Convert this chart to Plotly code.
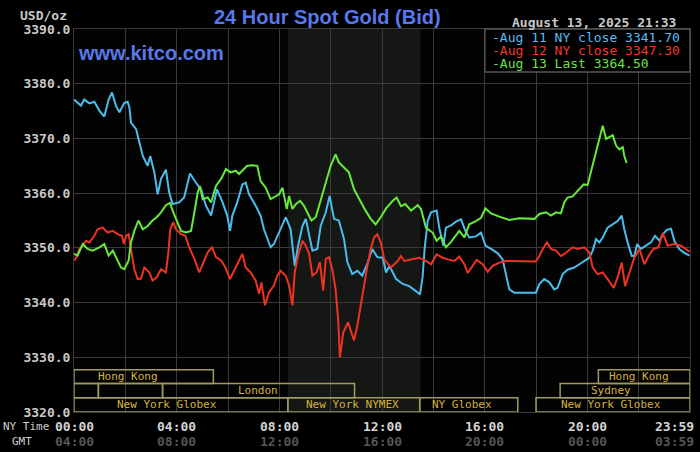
import plotly.graph_objects as go

# ---------------- data ----------------
aug11_h = [0, 0.14, 0.27, 0.4, 0.6, 0.79, 1.0, 1.18, 1.35, 1.48, 1.64, 1.77, 1.96, 2.09, 2.16, 2.22, 2.42, 2.55,
           2.68, 2.87, 2.97, 3.13, 3.26, 3.39, 3.58, 3.71, 3.84, 4.1, 4.29, 4.52, 4.75, 4.95, 5.14, 5.34, 5.44,
           5.57, 5.79, 5.97, 6.08, 6.17, 6.36, 6.56, 6.69, 6.82, 7.08, 7.27, 7.4, 7.66, 7.79, 7.99, 8.25, 8.44,
           8.6, 8.73, 8.9, 9.03, 9.16, 9.29, 9.48, 9.61, 9.81, 9.96, 10.13, 10.32, 10.52, 10.65, 10.84, 11.04,
           11.23, 11.43, 11.62, 11.82, 12.03, 12.16, 12.29, 12.55, 12.81, 13.06, 13.32, 13.48, 13.58, 13.66,
           13.78, 13.91, 14.13, 14.23, 14.39, 14.49, 14.69, 14.88, 15.08, 15.25, 15.4, 15.66, 15.86, 16.03,
           16.25, 16.51, 16.7, 16.83, 16.96, 17.16, 18.0, 18.13, 18.32, 18.52, 18.71, 18.84, 19.04, 19.23,
           19.49, 19.69, 19.88, 20.08, 20.21, 20.34, 20.47, 20.6, 20.79, 20.99, 21.18, 21.34, 21.44, 21.57,
           21.73, 21.83, 21.94, 22.09, 22.29, 22.48, 22.64, 22.81, 22.94, 23.1, 23.26, 23.39, 23.58, 23.78, 23.98]
aug11_p = [3377.1, 3376.5, 3376.0, 3377.1, 3376.4, 3376.7, 3375.0, 3374.0, 3377.1, 3378.4, 3375.9, 3374.8,
           3376.5, 3376.7, 3375.6, 3372.9, 3371.7, 3369.2, 3366.8, 3365.0, 3366.8, 3363.8, 3359.8, 3362.6,
           3364.3, 3360.1, 3358.0, 3358.3, 3359.2, 3363.6, 3361.9, 3360.7, 3357.7, 3355.9, 3358.3, 3360.7,
           3358.3, 3355.9, 3353.1, 3355.9, 3358.3, 3361.6, 3361.9, 3359.8, 3357.7, 3355.9, 3353.4, 3350.1,
           3350.7, 3352.8, 3355.6, 3353.4, 3346.7, 3350.4, 3354.0, 3355.3, 3352.2, 3349.5, 3349.8, 3354.0,
           3356.5, 3359.5, 3355.3, 3355.0, 3351.6, 3347.4, 3345.2, 3345.8, 3344.9, 3347.1, 3349.8, 3348.3,
           3348.2, 3345.5, 3346.7, 3344.3, 3343.4, 3343.0, 3342.1, 3341.5, 3344.6, 3349.8, 3354.9, 3356.5,
           3356.8, 3353.7, 3350.4, 3353.7, 3354.1, 3354.8, 3355.2, 3353.1, 3351.9, 3352.1, 3352.8, 3350.4,
           3349.8, 3349.0, 3347.9, 3344.9, 3342.4, 3341.8, 3341.8, 3343.4, 3344.3, 3343.7, 3342.4, 3342.7,
           3345.2, 3346.0, 3346.4, 3347.0, 3347.6, 3348.2, 3349.5, 3351.6, 3351.0, 3351.9, 3353.7, 3354.3,
           3354.9, 3355.9, 3353.4, 3351.0, 3348.5, 3348.5, 3350.7, 3349.8, 3350.4, 3351.0, 3352.2, 3351.3,
           3352.5, 3353.3, 3353.5, 3351.3, 3349.8, 3349.1, 3348.6]

aug12_h = [0, 0.1, 0.21, 0.34, 0.47, 0.6, 0.79, 0.92, 1.12, 1.31, 1.51, 1.7, 1.87, 1.94, 2.03, 2.13, 2.22, 2.35,
           2.48, 2.61, 2.74, 2.94, 3.06, 3.22, 3.39, 3.58, 3.68, 3.75, 3.87, 3.97, 4.17, 4.34, 4.49, 4.69, 4.88,
           5.08, 5.21, 5.38, 5.53, 5.73, 5.88, 6.08, 6.23, 6.43, 6.56, 6.69, 6.88, 7.08, 7.21, 7.3, 7.44, 7.6,
           7.79, 7.92, 8.05, 8.25, 8.38, 8.51, 8.6, 8.73, 8.9, 9.03, 9.16, 9.29, 9.45, 9.58, 9.71, 9.81, 9.94,
           10.06, 10.19, 10.29, 10.36, 10.49, 10.68, 10.78, 10.91, 11.04, 11.17, 11.3, 11.43, 11.56, 11.69,
           11.82, 11.95, 12.09, 12.35, 12.61, 12.74, 12.87, 13.19, 13.45, 13.71, 13.91, 14.13, 14.36, 14.56,
           14.82, 15.01, 15.21, 15.34, 15.53, 15.69, 15.92, 16.12, 16.31, 16.57, 16.83, 17.35, 17.99, 18.13,
           18.3, 18.43, 18.58, 18.78, 18.97, 19.17, 19.43, 19.62, 19.88, 20.08, 20.21, 20.4, 20.6, 20.79,
           21.03, 21.18, 21.34, 21.47, 21.64, 21.83, 22.03, 22.22, 22.42, 22.58, 22.77, 22.94, 23.13, 23.39,
           23.65, 23.98]
aug12_p = [3347.7, 3348.3, 3349.8, 3350.4, 3351.3, 3351.0, 3352.2, 3353.4, 3353.7, 3352.8, 3353.1, 3352.5,
           3352.2, 3350.7, 3352.2, 3352.5, 3349.8, 3346.1, 3344.3, 3344.4, 3346.4, 3345.5, 3344.0, 3344.6,
           3346.1, 3345.5, 3349.2, 3353.4, 3354.7, 3353.4, 3352.5, 3352.2, 3350.1, 3348.0, 3345.5, 3347.7,
           3349.2, 3350.1, 3348.3, 3347.7, 3346.6, 3344.3, 3345.8, 3347.7, 3348.9, 3346.4, 3345.5, 3344.0,
           3341.6, 3343.7, 3339.5, 3341.9, 3343.1, 3344.9, 3345.8, 3344.9, 3343.1, 3339.5, 3345.5, 3348.6,
           3351.3, 3350.4, 3348.9, 3344.9, 3345.5, 3347.4, 3342.2, 3348.0, 3348.3, 3346.1, 3342.5, 3337.0,
           3330.0, 3334.5, 3336.4, 3334.9, 3333.1, 3335.8, 3339.5, 3343.7, 3346.7, 3349.8, 3351.9, 3352.5,
           3351.0, 3347.9, 3346.4, 3347.6, 3348.5, 3347.6, 3347.9, 3348.2, 3347.6, 3347.0, 3348.8, 3348.2,
           3347.9, 3347.6, 3348.4, 3347.0, 3345.4, 3346.7, 3347.8, 3347.0, 3345.6, 3346.7, 3347.3, 3347.6,
           3347.5, 3347.5, 3348.5, 3350.1, 3351.0, 3349.8, 3349.5, 3348.5, 3349.1, 3350.1, 3349.8, 3350.1,
           3349.1, 3346.4, 3345.2, 3345.5, 3344.3, 3342.7, 3344.6, 3347.3, 3343.0, 3345.5, 3348.2, 3349.8,
           3347.0, 3348.8, 3349.8, 3350.1, 3352.7, 3350.4, 3350.7, 3350.4, 3349.3]

aug13_h = [0, 0.14, 0.34, 0.53, 0.73, 0.99, 1.18, 1.35, 1.51, 1.64, 1.83, 1.96, 2.13, 2.22, 2.35, 2.51, 2.68,
           2.87, 3.06, 3.22, 3.39, 3.58, 3.74, 3.87, 4.04, 4.17, 4.36, 4.56, 4.69, 4.82, 4.91, 5.01, 5.21, 5.34,
           5.53, 5.73, 5.92, 6.1, 6.3, 6.43, 6.62, 6.75, 6.95, 7.14, 7.27, 7.47, 7.66, 7.79, 7.99, 8.12, 8.21,
           8.29, 8.38, 8.51, 8.64, 8.81, 8.96, 9.09, 9.25, 9.42, 9.61, 9.81, 10.0, 10.19, 10.32, 10.52, 10.71,
           10.91, 11.17, 11.36, 11.56, 11.75, 11.95, 12.16, 12.42, 12.57, 12.74, 12.91, 13.13, 13.39, 13.52,
           13.71, 13.97, 14.13, 14.3, 14.49, 14.69, 15.01, 15.21, 15.4, 15.66, 15.86, 16.03, 16.25, 16.57,
           16.96, 17.35, 17.94, 18.13, 18.39, 18.58, 18.78, 18.97, 19.1, 19.23, 19.43, 19.62, 19.86, 20.01,
           20.14, 20.27, 20.4, 20.51, 20.6, 20.73, 20.86, 20.99, 21.12, 21.25, 21.38, 21.44, 21.53]
aug13_p = [3348.9, 3348.6, 3350.7, 3349.8, 3349.5, 3350.1, 3350.7, 3348.6, 3349.5, 3348.3, 3346.4, 3346.1,
           3347.7, 3351.0, 3353.1, 3355.0, 3353.4, 3354.0, 3355.0, 3355.6, 3356.5, 3357.8, 3358.2, 3356.5,
           3354.7, 3353.1, 3352.8, 3353.1, 3356.5, 3360.1, 3361.3, 3358.9, 3359.2, 3358.3, 3361.3, 3362.6,
           3364.4, 3363.8, 3364.1, 3363.5, 3364.4, 3365.0, 3365.1, 3365.0, 3362.2, 3361.0, 3358.9, 3359.2,
           3359.8, 3361.0, 3359.2, 3357.1, 3359.5, 3357.1, 3358.0, 3358.6, 3357.7, 3356.5, 3355.0, 3355.6,
           3358.6, 3361.9, 3365.0, 3367.1, 3365.6, 3364.7, 3363.8, 3360.7, 3358.3, 3356.8, 3355.3, 3354.3,
           3355.6, 3357.2, 3358.6, 3359.2, 3357.6, 3358.0, 3356.8, 3357.8, 3357.1, 3353.7, 3352.8, 3351.3,
           3352.1, 3350.1, 3351.1, 3353.1, 3351.9, 3354.3, 3354.9, 3355.5, 3357.2, 3356.3, 3355.7, 3355.1,
           3355.4, 3355.3, 3356.2, 3356.5, 3355.9, 3356.5, 3356.3, 3358.3, 3359.2, 3359.4, 3360.4, 3361.6,
           3361.5, 3363.8, 3366.2, 3368.7, 3370.5, 3372.3, 3369.9, 3370.2, 3370.6, 3368.7, 3368.0, 3368.4,
           3366.8, 3365.5]

legend_labels = ["Aug 11 NY close 3341.70", "Aug 12 NY close 3347.30", "Aug 13 Last 3364.50"]

ny_tick_hours = [0, 4, 8, 12, 16, 20, 24]
ny_tick_labels = ["00:00", "04:00", "08:00", "12:00", "16:00", "20:00", "23:59"]
gmt_tick_labels = ["04:00", "08:00", "12:00", "16:00", "20:00", "00:00", "03:59"]

# trading sessions: name, start hour, end hour, row (0 = top), label centre hour
session_names = ["Hong Kong", "Hong Kong", "", "", "London", "Sydney",
                 "New York Globex", "New York NYMEX", "NY Globex", "New York Globex"]
session_start = [0, 20.43, 0, 0.95, 3.45, 18.94, 0, 8.33, 13.47, 18.0]
session_end = [5.43, 24, 0.95, 3.45, 10.93, 24, 8.33, 13.47, 17.29, 24]
session_row = [0, 0, 1, 1, 1, 1, 2, 2, 2, 2]
session_label_at = [2.12, 22.0, None, None, 7.15, 20.94, 3.64, 10.85, 15.13, 20.94]

nymex_open, nymex_close = 8.33, 13.5

# ---------------- figure ----------------
BLUE, RED, GREEN = "#4cbcec", "#ee3322", "#66ea3a"
MONO = "DejaVu Sans Mono"

fig = go.Figure()
for h, p, c, n in [(aug11_h, aug11_p, BLUE, legend_labels[0]),
                   (aug12_h, aug12_p, RED, legend_labels[1]),
                   (aug13_h, aug13_p, GREEN, legend_labels[2])]:
    fig.add_trace(go.Scatter(x=h, y=p, mode="lines", line=dict(color=c, width=2), name=n,
                             hoverinfo="skip", showlegend=False))

shapes = []
# NYMEX shading
shapes.append(dict(type="rect", xref="x", yref="y", x0=nymex_open, x1=nymex_close, y0=3320, y1=3390,
                   fillcolor="#151715", line=dict(width=0), layer="below"))
row_top = [3327.7, 3325.2, 3322.6]
row_bot = [3325.2, 3322.6, 3320.0]
annotations = []
for name, s, e, r, lab in zip(session_names, session_start, session_end, session_row, session_label_at):
    shapes.append(dict(type="rect", xref="x", yref="y", x0=s, x1=e, y0=row_bot[r], y1=row_top[r],
                       line=dict(color="#a09a5e", width=1.5), fillcolor="rgba(0,0,0,0)", layer="above"))
    if name:
        annotations.append(dict(x=lab, y=(row_top[r] + row_bot[r]) / 2, xref="x", yref="y", text=name,
                                showarrow=False, font=dict(family=MONO, size=11, color="#d6b23c"),
                                xanchor="center", yanchor="middle"))

# legend box (paper coords)
shapes.append(dict(type="rect", xref="paper", yref="paper", x0=0.667, x1=1.0, y0=0.8877, y1=1.0,
                   fillcolor="#000000", line=dict(color="#555555", width=1.5), layer="above"))
for lab, c, yy in zip(legend_labels, ["#58bcf2", "#f03a2a", "#6ee048"], [0.979, 0.944, 0.909]):
    annotations.append(dict(x=0.667, y=yy, xref="paper", yref="paper", xanchor="left", yanchor="middle",
                            xshift=5, text="-" + lab, showarrow=False,
                            font=dict(family=MONO, size=13, color=c)))

# x tick labels (two rows)
for h, ny, gmt in zip(ny_tick_hours, ny_tick_labels, gmt_tick_labels):
    anchor = "right" if h == 24 else "center"
    shift = 6 if h == 24 else 0
    annotations.append(dict(x=h, y=-0.037, xref="x", yref="paper", text="<b>" + ny + "</b>", showarrow=False,
                            xanchor=anchor, xshift=shift, yanchor="middle",
                            font=dict(family=MONO, size=13, color="#d4d4d4")))
    annotations.append(dict(x=h, y=-0.076, xref="x", yref="paper", text="<b>" + gmt + "</b>", showarrow=False,
                            xanchor=anchor, xshift=shift, yanchor="middle",
                            font=dict(family=MONO, size=13, color="#555555")))
annotations.append(dict(x=-0.078, y=-0.037, xref="paper", yref="paper", text="NY Time", showarrow=False,
                        xanchor="center", yanchor="middle", font=dict(family=MONO, size=11, color="#cfcfcf")))
annotations.append(dict(x=-0.084, y=-0.076, xref="paper", yref="paper", text="GMT", showarrow=False,
                        xanchor="center", yanchor="middle", font=dict(family=MONO, size=11, color="#cfcfcf")))

# header texts
annotations.append(dict(x=-0.008, y=1.0, xref="paper", yref="paper", yshift=14, text="<b>USD/oz</b>",
                        showarrow=False, xanchor="right", yanchor="middle",
                        font=dict(family=MONO, size=13, color="#c8c8c8")))
annotations.append(dict(x=0.412, y=1.0, xref="paper", yref="paper", yshift=12,
                        text="<b>24 Hour Spot Gold (Bid)</b>", showarrow=False, xanchor="center",
                        yanchor="middle", font=dict(family="Liberation Sans", size=20, color="#5a78ec")))
annotations.append(dict(x=0.98, y=1.0, xref="paper", yref="paper", yshift=7,
                        text="<b>August 13, 2025 21:33</b>", showarrow=False, xanchor="right",
                        yanchor="middle", font=dict(family=MONO, size=13, color="#c8c8c8")))
annotations.append(dict(x=0.003, y=0.938, xref="paper", yref="paper", text="<b>www.kitco.com</b>",
                        showarrow=False, xanchor="left", yanchor="middle",
                        font=dict(family="Liberation Sans", size=20, color="#5a78ec")))

fig.update_layout(
    width=700, height=452,
    margin=dict(l=74, r=10, t=29, b=40),
    paper_bgcolor="#000000", plot_bgcolor="#030303",
    shapes=shapes, annotations=annotations,
    showlegend=False,
    xaxis=dict(range=[0, 24], tickvals=list(range(0, 25, 2)), showticklabels=False, ticks="",
               showgrid=True, gridcolor="#3a3a3a", gridwidth=1, zeroline=False,
               showline=True, linecolor="#3a3a3a", linewidth=1, mirror=True, fixedrange=True),
    yaxis=dict(range=[3320, 3390], tickvals=list(range(3320, 3391, 10)),
               ticktext=["<b>%.1f</b>" % v for v in range(3320, 3391, 10)], ticks="",
               tickfont=dict(family=MONO, size=13, color="#c8c8c8"),
               showgrid=True, gridcolor="#3a3a3a", gridwidth=1, zeroline=False,
               showline=True, linecolor="#3a3a3a", linewidth=1, mirror=True, fixedrange=True),
)

fig.write_html("out.html", config={"displayModeBar": False},
               post_script="document.body.style.margin='0';document.body.style.background='#000';")
